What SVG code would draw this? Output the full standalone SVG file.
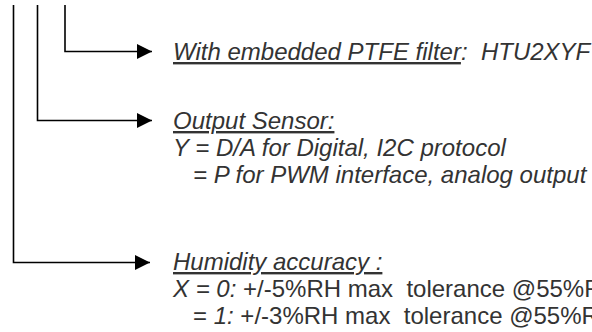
<svg xmlns="http://www.w3.org/2000/svg" width="592" height="332" viewBox="0 0 592 332">
<style>
.c{fill:none;stroke:#000;stroke-width:1.6}
.t{font-family:"Liberation Sans",Arial,sans-serif;font-size:24px;fill:#333;white-space:pre}
.i{font-style:italic}
.u{text-decoration:underline}
</style>
<defs>
<marker id="ah" markerUnits="userSpaceOnUse" markerWidth="16" markerHeight="16" viewBox="0 0 16 16" refX="15" refY="8" orient="auto">
<path d="M0,0.5 L15,8 L0,15.5 Z" fill="#000"/>
</marker>
</defs>
<g id="connectors">
<path class="c" d="M65,5 V51.5 H152" marker-end="url(#ah)"/>
<path class="c" d="M37.5,5 V120.5 H152" marker-end="url(#ah)"/>
<path class="c" d="M13.5,5 V262.5 H150" marker-end="url(#ah)"/>
</g>
<g id="filter">
<text class="t i" x="173" y="60" xml:space="preserve"><tspan class="u">With embedded PTFE filter</tspan>:  HTU2XYF</text>
</g>
<g id="output">
<text class="t i u" x="173" y="129">Output Sensor:</text>
<text class="t i" x="173" y="156">Y = D/A for Digital, I2C protocol</text>
<text class="t i" x="173" y="183" xml:space="preserve">   = P for PWM interface, analog output</text>
</g>
<g id="humidity">
<text class="t i u" x="173" y="270">Humidity accuracy :</text>
<text class="t" x="173" y="297" xml:space="preserve"><tspan class="i">X = 0:</tspan> +/-5%RH max  tolerance @55%RH</text>
<text class="t" x="173" y="324" xml:space="preserve">   = <tspan class="i">1:</tspan> +/-3%RH max  tolerance @55%RH</text>
</g>
</svg>
